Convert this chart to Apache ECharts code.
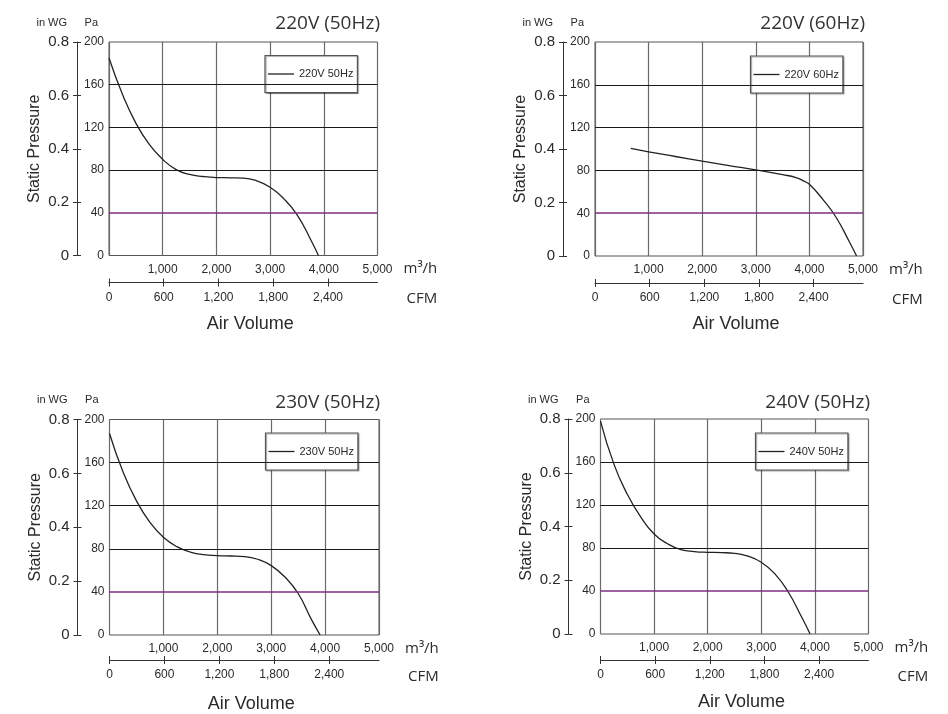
<!DOCTYPE html>
<html>
<head>
<meta charset="utf-8">
<script src="https://cdn.jsdelivr.net/npm/echarts@6/dist/echarts.min.js"></script>
<style>
html,body{margin:0;padding:0;background:#fff;}
#chart{width:948px;height:714px;}
</style>
</head>
<body>
<div id="chart"></div>
<script>
// ---------- data ----------
const panelTitles = ['220V (50Hz)', '220V (60Hz)', '230V (50Hz)', '240V (50Hz)'];
const seriesNames = ['220V 50Hz', '220V 60Hz', '230V 50Hz', '240V 50Hz'];

const flow220v50 = [0, 250, 500, 750, 1000, 1250, 1500, 1750, 2000, 2250, 2500, 2750, 3000, 3250, 3500, 3750, 3900];
const pa220v50   = [185, 151, 124, 104, 90, 80.5, 76, 74, 73, 72.8, 72.5, 70, 64, 53.5, 38.3, 15.5, 0];

const flow220v60 = [666, 1000, 1500, 2000, 2500, 3000, 3500, 3750, 3900, 4000, 4250, 4500, 4750, 4880];
const pa220v60   = [100.5, 97.3, 93, 88.6, 84.5, 80.5, 76, 73.3, 70, 67, 53, 36, 12.8, 0];

const flow230v50 = [0, 250, 500, 750, 1000, 1250, 1500, 1750, 2000, 2250, 2500, 2750, 3000, 3250, 3500, 3750, 3908];
const pa230v50   = [187, 151.5, 124.5, 104.5, 90.7, 82, 77, 74.5, 73.7, 73.3, 72.8, 70.3, 64.4, 54, 38.5, 14, 0];

const flow240v50 = [0, 250, 500, 750, 1000, 1250, 1500, 1750, 2000, 2250, 2500, 2750, 3000, 3250, 3500, 3750, 3911];
const pa240v50   = [198, 158, 130, 109, 93, 84, 78.5, 76.7, 76, 75.7, 75, 72.5, 66.7, 56.2, 39.3, 16, 0];

const flows = [flow220v50, flow220v60, flow230v50, flow240v50];
const pressures = [pa220v50, pa220v60, pa230v50, pa240v50];

const m3hMax = 5000, m3hStep = 1000;
const cfmTicks = [0, 600, 1200, 1800, 2400];
const m3hPerCfm = 1.699;
const paMax = 200, paStep = 40;
const paGridLevels = [40, 80, 120, 160];
const paRefLine = 40;
const inwgMax = 0.8, inwgStep = 0.2;

// ---------- layout ----------
const panels = [
  {left: 109,   top: 42,    width: 268.5, height: 213.5, cfmOff: 27, avGap: 32.5, titleRight: 568, titleTop: 14,  legLeft: 265,   legTop: 55.5},
  {left: 595,   top: 42,    width: 268,   height: 214,   cfmOff: 27, avGap: 32.5, titleRight: 83,  titleTop: 14,  legLeft: 750.5, legTop: 56},
  {left: 109.5, top: 419.5, width: 269.5, height: 215.5, cfmOff: 25, avGap: 35,   titleRight: 568, titleTop: 393, legLeft: 265.5, legTop: 433},
  {left: 600.5, top: 419,   width: 268,   height: 215,   cfmOff: 26, avGap: 33.5, titleRight: 78,  titleTop: 393, legLeft: 755.5, legTop: 433}
];

const NARROW = "'Liberation Sans Narrow', 'Liberation Sans', Arial, sans-serif";
const ARIAL = "'Liberation Sans', Arial, sans-serif";
const SANS = "'Open Sans', 'DejaVu Sans', sans-serif";
const TXT = '#2a2a2a';
const PURPLE = '#7b2f80';
const HLINE = '#1a1a1a';

const grid = [], xAxis = [], yAxis = [], series = [], legend = [], title = [];

panels.forEach((p, i) => {
  grid.push({left: p.left, top: p.top, width: p.width, height: p.height, show: true,
    borderColor: '#555', borderWidth: 1, backgroundColor: 'transparent', containLabel: false});

  // m3/h axis
  xAxis.push({
    gridIndex: i, type: 'value', min: 0, max: m3hMax, interval: m3hStep, position: 'bottom',
    axisLine: {show: false, onZero: false}, axisTick: {show: false},
    axisLabel: {showMinLabel: false, margin: 8, fontFamily: NARROW, fontSize: 12, color: TXT},
    splitLine: {show: true, lineStyle: {color: '#6a6a6a', width: 1.2}},
    name: 'm³/h', nameLocation: 'end', nameGap: 26,
    nameTextStyle: {fontFamily: SANS, fontSize: 15, color: TXT, align: 'left', verticalAlign: 'top', lineHeight: 27}
  });
  // CFM axis (outer ticks + labels)
  xAxis.push({
    gridIndex: i, type: 'value', min: 0, max: m3hMax / m3hPerCfm, position: 'bottom', offset: p.cfmOff,
    axisLine: {show: true, onZero: false, lineStyle: {color: '#333', width: 1}},
    axisTick: {show: true, length: 4, customValues: cfmTicks, lineStyle: {color: '#333'}},
    axisLabel: {customValues: cfmTicks, margin: 9, fontFamily: NARROW, fontSize: 12, color: TXT},
    splitLine: {show: false},
    name: 'CFM', nameLocation: 'end', nameGap: 29,
    nameTextStyle: {fontFamily: SANS, fontSize: 15, color: TXT, align: 'left', verticalAlign: 'top', lineHeight: 33}
  });
  // CFM axis (inner ticks) + "Air Volume"
  xAxis.push({
    gridIndex: i, type: 'value', min: 0, max: m3hMax / m3hPerCfm, position: 'bottom', offset: p.cfmOff,
    axisLine: {show: false, onZero: false},
    axisTick: {show: true, inside: true, length: 4, customValues: cfmTicks, lineStyle: {color: '#333'}},
    axisLabel: {show: false}, splitLine: {show: false},
    name: 'Air Volume', nameLocation: 'middle', nameGap: p.avGap,
    nameTextStyle: {fontFamily: ARIAL, fontSize: 18, color: TXT, padding: [0, 0, 0, 14]}
  });

  // Pa axis
  yAxis.push({
    gridIndex: i, type: 'value', min: 0, max: paMax, interval: paStep, position: 'left',
    axisLine: {show: false, onZero: false}, axisTick: {show: false},
    axisLabel: {margin: 5, fontFamily: NARROW, fontSize: 12, color: TXT},
    splitLine: {show: false},
    name: 'Pa', nameLocation: 'end', nameGap: 14,
    nameTextStyle: {fontFamily: ARIAL, fontSize: 11, color: TXT, align: 'right', padding: [0, 11, 0, 0]}
  });
  // in WG axis
  yAxis.push({
    gridIndex: i, type: 'value', min: 0, max: inwgMax, interval: inwgStep, position: 'left', offset: 32,
    axisLine: {show: true, onZero: false, lineStyle: {color: '#333', width: 1}},
    axisTick: {show: true, length: 4, lineStyle: {color: '#333'}},
    axisLabel: {margin: 8, fontFamily: NARROW, fontSize: 15, color: TXT},
    splitLine: {show: false},
    name: 'in WG', nameLocation: 'end', nameGap: 14,
    nameTextStyle: {fontFamily: ARIAL, fontSize: 11, color: TXT, align: 'right', padding: [0, 10, 0, 0]}
  });
  // in WG inner ticks + "Static Pressure"
  yAxis.push({
    gridIndex: i, type: 'value', min: 0, max: inwgMax, interval: inwgStep, position: 'left', offset: 32,
    axisLine: {show: false, onZero: false},
    axisTick: {show: true, inside: true, length: 4, lineStyle: {color: '#333'}},
    axisLabel: {show: false}, splitLine: {show: false},
    name: 'Static Pressure', nameLocation: 'middle', nameGap: 34,
    nameTextStyle: {fontFamily: NARROW, fontSize: 16, color: TXT}
  });

  series.push({
    name: seriesNames[i], type: 'line', xAxisIndex: 3 * i, yAxisIndex: 3 * i,
    data: flows[i].map((f, k) => [f, pressures[i][k]]),
    smooth: true, symbol: 'none', showSymbol: false,
    lineStyle: {color: '#222', width: 1.3}, itemStyle: {color: '#222'}, z: 3,
    markLine: {
      silent: true, symbol: 'none', label: {show: false},
      emphasis: {disabled: true}, animation: false,
      data: paGridLevels.map(v => ({
        yAxis: v,
        lineStyle: v === paRefLine
          ? {color: PURPLE, width: 1.6, type: 'solid', opacity: 1}
          : {color: HLINE, width: 1, type: 'solid'}
      }))
    }
  });

  legend.push({
    data: [seriesNames[i]], left: p.legLeft, top: p.legTop, orient: 'horizontal',
    padding: [11.5, 4, 11.5, 3], itemWidth: 26, itemHeight: 1.3,
    icon: 'path://M0,0 L100,0 L100,5 L0,5 Z',
    backgroundColor: '#fff', borderColor: '#555', borderWidth: 1.2,
    shadowColor: 'rgba(0,0,0,0.35)', shadowOffsetX: 1, shadowOffsetY: 1, shadowBlur: 1,
    textStyle: {fontFamily: NARROW, fontSize: 11, color: TXT, lineHeight: 14}, selectedMode: false
  });

  title.push({
    text: panelTitles[i], right: p.titleRight, top: p.titleTop, padding: 0,
    textStyle: {fontFamily: SANS, fontSize: 19, fontWeight: 'normal', color: '#333'}
  });
});

const chart = echarts.init(document.getElementById('chart'), null, {renderer: 'canvas'});
chart.setOption({
  backgroundColor: '#fff', animation: false,
  title, legend, grid, xAxis, yAxis, series
});
</script>
</body>
</html>
